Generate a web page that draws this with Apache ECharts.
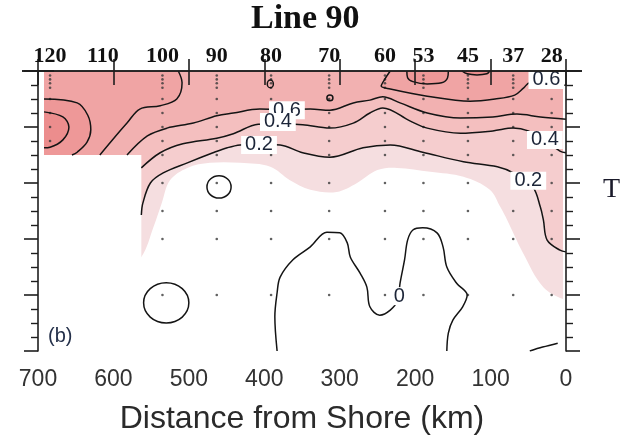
<!DOCTYPE html>
<html><head><meta charset="utf-8">
<script src="https://cdn.jsdelivr.net/npm/echarts@6/dist/echarts.min.js"></script>
<style>html,body{margin:0;padding:0;background:#fff}#chart{width:629px;height:441px}</style>
</head><body><div id="chart"></div>
<script>
// ---------------- data (distance km, depth m) ----------------
const distanceTicks = [0, 100, 200, 300, 400, 500, 600, 700];
const depthTicks = [0, 100, 200, 300, 400, 500];
const stationNames = ['120', '110', '100', '90', '80', '70', '60', '53', '45', '37', '28'];
const stationKm = [684, 614, 535, 463, 391, 314, 240, 189, 130, 70, 19];
const dotStationKm = [684, 535, 463, 391, 314, 240, 189, 130, 70, 19];
const dotDepths = [8, 15, 22, 30, 50, 75, 100, 125, 150, 200, 250, 300, 400];
const dataExtentKm = [4, 692];
const noDataKm = [563, 700];
const noDataDepth = [150, 500];

const contour02 = [[563,257],[561,236],[551,200],[534,182],[502,164],[468,146],[449,137],[432,132],[407,131],[379,132],[349,146],[313,154],[269,137],[233,132],[190,145],[136,162],[91,171],[70,182],[44,207],[34,243],[30,266],[25,302],[8,320],[0,323]];
const contour04 = [[563,173],[538,146],[508,130],[463,120],[441,112],[408,95],[380,94],[349,96],[313,102],[282,93],[260,75],[243,66],[207,89],[184,102],[140,111],[97,107],[70,102],[50,107],[28,123],[8,143],[0,146]];
const contour06 = [[582,150],[555,116],[529,102],[494,93],[463,80],[441,75],[406,68],[370,69],[339,68],[313,70],[282,57],[260,52],[243,46],[220,57],[184,75],[140,84],[97,82],[65,77],[34,82],[0,86]];
const contour08W = [[618,150],[600,121],[582,93],[565,68],[538,62],[516,50],[509,21],[514,0]];
const contour08E = [[233,0],[240,14],[245,27],[233,32],[184,45],[127,54],[94,50],[68,43],[56,30],[48,21],[15,27],[0,25]];
const contour10W = [[692,50],[648,57],[634,79],[630,105],[635,127],[648,145],[655,150]];
const contour12W = [[692,73],[667,82],[659,100],[667,123],[684,136],[692,137]];
const topPatch1 = [[211,0],[210,12],[203,19],[184,23],[165,21],[157,12],[156,0]];
const topPatch2 = [[138,0],[131,5],[118,7],[105,5],[101,0]];
const contour00 = [[383,500],[386,439],[383,396],[379,368],[362,337],[339,314],[317,288],[300,289],[290,307],[286,332],[273,361],[264,386],[260,421],[247,436],[233,427],[223,409],[220,379],[214,337],[210,302],[203,284],[190,280],[171,289],[163,314],[158,350],[145,379],[131,400],[137,421],[150,445],[156,468],[158,500]];
const contour00b = [[48,500],[31,493],[11,486]];
const shadeEdge = [[600,380],[563,332],[547,279],[536,236],[525,195],[502,173],[472,164],[432,164],[392,171],[366,195],[339,212],[304,216],[277,200],[250,177],[224,173],[180,180],[136,189],[101,212],[87,243],[78,266],[57,325],[30,386],[0,409]];
const loopCenters = [[460,207],[530,414],[313,48],[392,23]];
const loopRadii = [[16,20],[30,36],[4,5],[4,7]];

const labelText = ['0.6', '0.4', '0.2', '0.6', '0.4', '0.2', '0'];
const labelKm = [370, 382, 407, 26, 28, 50, 221];
const labelDepth = [70, 91, 132, 16, 123, 196, 402];

// ---------------- fill layers (closed through points outside the plot) ----------------
const fillLayers = [
  shadeEdge.concat([[-60,430],[-60,-60],[760,-60],[760,380]]),
  [[620,300]].concat(contour02, [[-60,330],[-60,-60],[760,-60],[760,300]]),
  [[600,200]].concat(contour04, [[-60,150],[-60,-60],[760,-60],[760,200]]),
  [[600,200]].concat(contour06, [[-60,88],[-60,-60],[760,-60],[760,200]]),
  [[640,200]].concat(contour08W, [[516,-60],[760,-60],[760,200]]),
  [[233,-60]].concat(contour08E, [[-60,25],[-60,-60]]),
  [[760,50]].concat(contour10W, [[660,200],[760,200]]),
  [[211,-30]].concat(topPatch1, [[156,-30]]),
  [[760,73]].concat(contour12W, [[760,137]]),
  [[138,-30]].concat(topPatch2, [[101,-30]])
];
const fillColors = ['#F5DEE0','#F5CDCE','#F4BFBF','#F2B1B1','#F0A4A4','#F0A4A4','#EE9898','#EE9898','#EC8D8D','#EC8D8D'];

const contourLines = [contour02, contour04, contour06, contour08W, contour08E, contour10W, contour12W, topPatch1, topPatch2, contour00, contour00b];

const dots = [];
dotStationKm.forEach(k => dotDepths.forEach(d => {
  if (!(k > noDataKm[0] && d >= noDataDepth[0])) dots.push([k, d]);
}));

const chart = echarts.init(document.getElementById('chart'), null, {renderer: 'canvas'});
const SANS = "'Liberation Sans', Arial, sans-serif";
const SERIF = "'Liberation Serif', 'Times New Roman', serif";
const AX = '#1e1e1e';

function clipRect(api) {
  const a = api.coord([dataExtentKm[1], depthTicks[0]]);
  const b = api.coord([dataExtentKm[0], depthTicks[depthTicks.length - 1]]);
  return {type: 'rect', shape: {x: Math.min(a[0], b[0]), y: Math.min(a[1], b[1]), width: Math.abs(b[0] - a[0]), height: Math.abs(b[1] - a[1])}};
}

const series = [];
series.push({
  type: 'custom', name: 'fills', silent: true, z: 1,
  data: fillLayers.map((p, i) => [i, 0]),
  renderItem: function (params, api) {
    const idx = params.dataIndex;
    const pts = fillLayers[idx].map(p => api.coord(p));
    return {type: 'polygon', shape: {points: pts, smooth: 0.35}, style: {fill: fillColors[idx]}, clipPath: clipRect(api)};
  }
});
series.push({
  type: 'custom', name: 'nodata', silent: true, z: 2,
  data: [[noDataKm[0], noDataDepth[0]]],
  renderItem: function (params, api) {
    const a = api.coord([noDataKm[1], noDataDepth[0]]);
    const b = api.coord([noDataKm[0], noDataDepth[1]]);
    return {type: 'rect', shape: {x: a[0] - 10, y: a[1], width: b[0] - a[0] + 10, height: b[1] - a[1]}, style: {fill: '#ffffff'}};
  }
});
series.push({
  type: 'scatter', name: 'samples', silent: true, z: 3,
  data: dots, symbol: 'circle', symbolSize: 2.6,
  itemStyle: {color: '#3a3a3a'}
});
contourLines.forEach((ln, i) => {
  series.push({
    type: 'line', name: 'c' + i, data: ln, smooth: 0.35, symbol: 'none', silent: true, z: 4,
    lineStyle: {color: '#141414', width: 1.5}
  });
});
series.push({
  type: 'custom', name: 'loops', silent: true, z: 4,
  data: loopCenters.map((c, i) => [c[0], c[1], loopRadii[i][0], loopRadii[i][1]]),
  renderItem: function (params, api) {
    const c = api.coord([api.value(0), api.value(1)]);
    const s = api.size([api.value(2), api.value(3)]);
    return {type: 'ellipse', shape: {cx: c[0], cy: c[1], rx: s[0], ry: s[1]}, style: {fill: 'none', stroke: '#141414', lineWidth: 1.5}};
  }
});
series.push({
  type: 'custom', name: 'labels', silent: true, z: 6,
  data: labelKm.map((k, i) => [k, labelDepth[i], i]),
  renderItem: function (params, api) {
    const c = api.coord([api.value(0), api.value(1)]);
    return {
      type: 'text', x: c[0], y: c[1],
      style: {
        text: labelText[params.dataIndex], fill: '#1c2538',
        font: "20px 'Liberation Sans', Arial, sans-serif",
        align: 'center', verticalAlign: 'middle',
        backgroundColor: '#ffffff', padding: [0, 4, 0, 4], lineHeight: 18
      }
    };
  }
});

const stationLabel = v => { const i = stationKm.indexOf(v); return i >= 0 ? stationNames[i] : ''; };

chart.setOption({
  animation: false,
  backgroundColor: '#ffffff',
  textStyle: {fontFamily: SANS},
  title: [
    {text: 'Line 90', left: 251, top: 2, padding: 0, textStyle: {fontFamily: SERIF, fontWeight: 'bold', fontSize: 34, color: '#111'}},
    {text: 'T', left: 603, top: 176, padding: 0, textStyle: {fontFamily: SERIF, fontWeight: 'normal', fontSize: 28, color: '#1a1a2a'}},
    {text: '(b)', left: 48, top: 326, padding: 0, textStyle: {fontFamily: SANS, fontWeight: 'normal', fontSize: 20, color: '#24304a'}}
  ],
  grid: {left: 38, right: 63, top: 71, bottom: 90, containLabel: false},
  xAxis: [
    {
      type: 'value', position: 'bottom', min: 0, max: 700, interval: 100, inverse: true, z: 10,
      name: 'Distance from Shore (km)', nameLocation: 'middle', nameGap: 52,
      nameTextStyle: {fontFamily: SANS, fontSize: 32, color: '#2a2a2a'},
      axisLine: {show: true, symbol: ['rect', 'rect'], symbolSize: [1.6, 32], lineStyle: {color: AX, width: 1.6}},
      axisTick: {show: true, length: 14, lineStyle: {color: AX, width: 1.6}},
      axisLabel: {show: true, margin: 17, fontSize: 23, color: '#333', fontFamily: SANS},
      splitLine: {show: false}
    },
    {
      type: 'value', position: 'top', min: 0, max: 700, interval: 100, inverse: true, z: 10,
      axisLine: {show: true, onZero: false, symbol: ['rect', 'rect'], symbolSize: [1.6, 32], lineStyle: {color: AX, width: 1.6}},
      axisTick: {show: true, length: 12, customValues: distanceTicks, lineStyle: {color: AX, width: 1.6}},
      axisLabel: {show: true, margin: 4, customValues: stationKm, formatter: stationLabel, fontSize: 22, fontWeight: 'bold', color: '#111', fontFamily: SERIF},
      splitLine: {show: false}
    }
  ],
  yAxis: [
    {
      type: 'value', position: 'left', min: 0, max: 500, interval: 100, inverse: true, z: 10,
      axisLine: {show: true, onZero: false, lineStyle: {color: AX, width: 1.6}},
      axisTick: {show: true, length: 14, lineStyle: {color: AX, width: 1.6}},
      minorTick: {show: true, splitNumber: 4, length: 7, lineStyle: {color: AX, width: 1.4}},
      axisLabel: {show: false}, splitLine: {show: false}
    },
    {
      type: 'value', position: 'right', min: 0, max: 500, interval: 100, inverse: true, z: 10,
      axisLine: {show: true, onZero: false, lineStyle: {color: AX, width: 1.6}},
      axisTick: {show: true, length: 14, lineStyle: {color: AX, width: 1.6}},
      minorTick: {show: true, splitNumber: 4, length: 7, lineStyle: {color: AX, width: 1.4}},
      axisLabel: {show: false}, splitLine: {show: false}
    }
  ],
  series: series
});
</script>
</body></html>
